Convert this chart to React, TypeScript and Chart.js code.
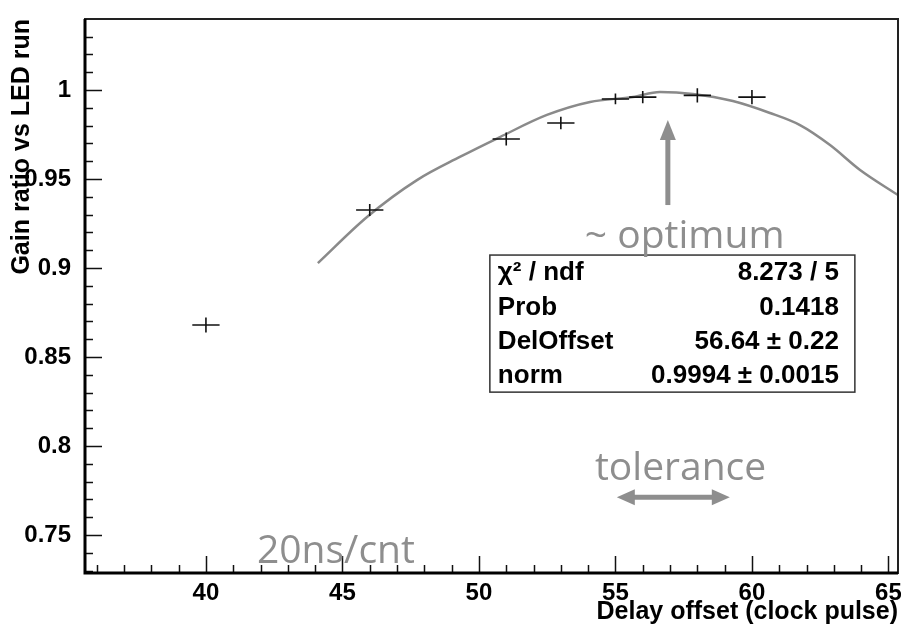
import React, { useEffect, useRef } from "react";
import { Chart, registerables } from "chart.js";

Chart.register(...registerables);

const W = 901;
const H = 628;

// measured points (with error bars)
const pointX = [40, 46, 51, 53, 55, 56, 58, 60];
const pointY = [0.868, 0.9326, 0.9725, 0.9815, 0.995, 0.996, 0.997, 0.996];
const pointXErr = [0.5, 0.5, 0.5, 0.5, 0.5, 0.5, 0.5, 0.5];
const pointYErr = [0.0042, 0.0034, 0.0037, 0.0035, 0.003, 0.0034, 0.004, 0.004];

// fitted curve
const fitX = [44.1, 45.9, 47.73, 49.3, 50.77, 52.49, 54.07, 55.64, 56.63, 57.84, 59.3, 60.66, 61.76, 62.86, 63.96, 65.35];
const fitY = [0.9028, 0.9287, 0.9494, 0.9624, 0.9736, 0.986, 0.9933, 0.9961, 0.9989, 0.9978, 0.9938, 0.9871, 0.9803, 0.9691, 0.9551, 0.941];

// axes
const xMajorTicks = [40, 45, 50, 55, 60, 65];
const yMajorTicks = [0.75, 0.8, 0.85, 0.9, 0.95, 1];
const xMinorStep = 1;
const yMinorStep = 0.01;
const xRange = [35.57, 65.35];
const yRange = [0.7287, 1.0399];
const xTitle = "Delay offset (clock pulse)";
const yTitle = "Gain ratio vs LED run";

// statistics box
const statsNames = ["\u03C7\u00B2 / ndf", "Prob", "DelOffset", "norm"];
const statsValues = ["8.273 / 5", "0.1418", "56.64 \u00B1 0.22", "0.9994 \u00B1 0.0015"];
const statsBoxX = [50.4, 63.77];
const statsBoxY = [0.9073, 0.8303];

// annotations (data coordinates)
const annotTexts = ["~ optimum", "tolerance", "20ns/cnt"];
const annotX = [53.88, 54.25, 41.87];
const annotY = [0.9112, 0.7809, 0.7343];
const upArrowX = 56.92;
const upArrowY = [0.9354, 0.9831];
const tolArrowX = [55.05, 59.19];
const tolArrowY = 0.7713;

const BOLD = '"Liberation Sans", Arial, Helvetica, sans-serif';
const GREY = "#8e8e8e";

function minorValues(min: number, max: number, step: number) {
  const out: number[] = [];
  const start = Math.ceil(min / step - 1e-9);
  for (let i = start; i * step <= max + 1e-9; i++) out.push(i * step);
  return out;
}

const rootPlugin = {
  id: "rootStyle",
  afterDatasetsDraw(chart: any) {
    const ctx = chart.ctx;
    const xs = chart.scales.x;
    const ys = chart.scales.y;
    ctx.save();
    ctx.strokeStyle = "#111";
    ctx.lineWidth = 1.6;
    for (let i = 0; i < pointX.length; i++) {
      const cx = xs.getPixelForValue(pointX[i]);
      const cy = ys.getPixelForValue(pointY[i]);
      const xl = xs.getPixelForValue(pointX[i] - pointXErr[i]);
      const xr = xs.getPixelForValue(pointX[i] + pointXErr[i]);
      const yt = ys.getPixelForValue(pointY[i] + pointYErr[i]);
      const yb = ys.getPixelForValue(pointY[i] - pointYErr[i]);
      ctx.beginPath();
      ctx.moveTo(xl, cy);
      ctx.lineTo(xr, cy);
      ctx.moveTo(cx, yt);
      ctx.lineTo(cx, yb);
      ctx.stroke();
    }
    ctx.restore();
  },
  afterDraw(chart: any) {
    const ctx = chart.ctx;
    const xs = chart.scales.x;
    const ys = chart.scales.y;
    const a = chart.chartArea;
    ctx.save();

    // ticks (inward)
    ctx.strokeStyle = "#111";
    ctx.lineWidth = 1.5;
    ctx.beginPath();
    for (const v of minorValues(xRange[0], xRange[1], xMinorStep)) {
      const px = Math.round(xs.getPixelForValue(v)) + 0.5;
      const major = xMajorTicks.some((m) => Math.abs(m - v) < 1e-6);
      ctx.moveTo(px, a.bottom);
      ctx.lineTo(px, a.bottom - (major ? 17 : 8));
    }
    for (const v of minorValues(yRange[0], yRange[1], yMinorStep)) {
      const py = Math.round(ys.getPixelForValue(v)) + 0.5;
      const major = yMajorTicks.some((m) => Math.abs(m - v) < 1e-6);
      ctx.moveTo(a.left, py);
      ctx.lineTo(a.left + (major ? 17 : 8), py);
    }
    ctx.stroke();

    // frame
    ctx.lineWidth = 2;
    ctx.strokeStyle = "#222";
    ctx.strokeRect(a.left, a.top, a.right - a.left, a.bottom - a.top);
    ctx.lineWidth = 3;
    ctx.strokeStyle = "#000";
    ctx.beginPath();
    ctx.moveTo(a.left, a.top);
    ctx.lineTo(a.left, a.bottom);
    ctx.lineTo(a.right, a.bottom);
    ctx.stroke();

    // stats box
    const bx0 = xs.getPixelForValue(statsBoxX[0]);
    const bx1 = xs.getPixelForValue(statsBoxX[1]);
    const by0 = ys.getPixelForValue(statsBoxY[0]);
    const by1 = ys.getPixelForValue(statsBoxY[1]);
    ctx.fillStyle = "#fff";
    ctx.fillRect(bx0, by0, bx1 - bx0, by1 - by0);
    ctx.lineWidth = 1.5;
    ctx.strokeStyle = "#333";
    ctx.strokeRect(bx0, by0, bx1 - bx0, by1 - by0);
    ctx.fillStyle = "#000";
    ctx.font = `bold 26px ${BOLD}`;
    ctx.textBaseline = "middle";
    const rowH = (by1 - by0) / statsNames.length;
    for (let i = 0; i < statsNames.length; i++) {
      const cy = by0 + rowH * (i + 0.5) + 1;
      ctx.textAlign = "left";
      ctx.fillText(statsNames[i], bx0 + 8, cy);
      ctx.textAlign = "right";
      ctx.fillText(statsValues[i], bx1 - 16, cy);
    }

    // annotations
    ctx.fillStyle = GREY;
    ctx.strokeStyle = GREY;
    ctx.font = `39px "Open Sans", "DejaVu Sans", sans-serif`;
    ctx.textAlign = "left";
    ctx.textBaseline = "alphabetic";
    for (let i = 0; i < annotTexts.length; i++) {
      ctx.fillText(annotTexts[i], xs.getPixelForValue(annotX[i]), ys.getPixelForValue(annotY[i]));
    }

    // up arrow
    const ax = xs.getPixelForValue(upArrowX);
    const ay0 = ys.getPixelForValue(upArrowY[0]);
    const ay1 = ys.getPixelForValue(upArrowY[1]);
    ctx.lineWidth = 5;
    ctx.beginPath();
    ctx.moveTo(ax, ay0);
    ctx.lineTo(ax, ay1 + 12);
    ctx.stroke();
    ctx.beginPath();
    ctx.moveTo(ax, ay1);
    ctx.lineTo(ax - 8, ay1 + 20);
    ctx.lineTo(ax + 8, ay1 + 20);
    ctx.closePath();
    ctx.fill();

    // tolerance double arrow
    const tx0 = xs.getPixelForValue(tolArrowX[0]);
    const tx1 = xs.getPixelForValue(tolArrowX[1]);
    const ty = ys.getPixelForValue(tolArrowY);
    ctx.beginPath();
    ctx.moveTo(tx0 + 12, ty);
    ctx.lineTo(tx1 - 12, ty);
    ctx.stroke();
    ctx.beginPath();
    ctx.moveTo(tx0, ty);
    ctx.lineTo(tx0 + 18, ty - 8);
    ctx.lineTo(tx0 + 18, ty + 8);
    ctx.closePath();
    ctx.fill();
    ctx.beginPath();
    ctx.moveTo(tx1, ty);
    ctx.lineTo(tx1 - 18, ty - 8);
    ctx.lineTo(tx1 - 18, ty + 8);
    ctx.closePath();
    ctx.fill();

    ctx.restore();
  },
};

export default function App() {
  const ref = useRef<HTMLCanvasElement | null>(null);

  useEffect(() => {
    const canvas = ref.current;
    if (!canvas) return;
    const tickFont = { family: BOLD, size: 24, weight: "bold" as const };
    const titleFont = { family: BOLD, size: 25, weight: "bold" as const };
    const chart = new Chart(canvas, {
      type: "scatter",
      data: {
        datasets: [
          {
            label: "fit",
            data: fitX.map((x, i) => ({ x, y: fitY[i] })),
            showLine: true,
            borderColor: "#8a8a8a",
            borderWidth: 2.5,
            pointRadius: 0,
            tension: 0.4,
            cubicInterpolationMode: "monotone",
          },
          {
            label: "data",
            data: pointX.map((x, i) => ({ x, y: pointY[i] })),
            showLine: false,
            pointRadius: 0,
          },
        ],
      },
      options: {
        responsive: false,
        animation: false,
        events: [],
        layout: { padding: { top: 19, right: 3, left: 0, bottom: 0 } },
        plugins: {
          legend: { display: false },
          tooltip: { enabled: false },
          title: { display: false },
        },
        scales: {
          x: {
            type: "linear",
            min: xRange[0],
            max: xRange[1],
            afterBuildTicks: (s: any) => {
              s.ticks = xMajorTicks.map((value) => ({ value }));
            },
            afterFit: (s: any) => {
              s.height = 55;
              s.paddingLeft = 0;
              s.paddingRight = 0;
            },
            grid: { display: false, drawTicks: false },
            border: { display: false },
            ticks: {
              font: tickFont,
              color: "#000",
              padding: 6,
              maxRotation: 0,
              autoSkip: false,
            },
            title: {
              display: true,
              text: xTitle,
              align: "end",
              color: "#000",
              font: titleFont,
              padding: { top: 0, bottom: 1 },
            },
          },
          y: {
            type: "linear",
            min: yRange[0],
            max: yRange[1],
            afterBuildTicks: (s: any) => {
              s.ticks = yMajorTicks.map((value) => ({ value }));
            },
            afterFit: (s: any) => {
              s.width = 85;
              s.paddingTop = 0;
              s.paddingBottom = 0;
            },
            grid: { display: false, drawTicks: false },
            border: { display: false },
            ticks: {
              font: tickFont,
              color: "#000",
              padding: 14,
              autoSkip: false,
              callback: (v: any) => String(Math.round(Number(v) * 100) / 100),
            },
            title: {
              display: true,
              text: yTitle,
              align: "end",
              color: "#000",
              font: titleFont,
              padding: { top: 7, bottom: 0 },
            },
          },
        },
      },
      plugins: [rootPlugin],
    });
    return () => chart.destroy();
  }, []);

  return (
    <div style={{ position: "fixed", left: 0, top: 0, width: W, height: H, background: "#fff" }}>
      <canvas ref={ref} width={W} height={H} style={{ display: "block" }} />
    </div>
  );
}
